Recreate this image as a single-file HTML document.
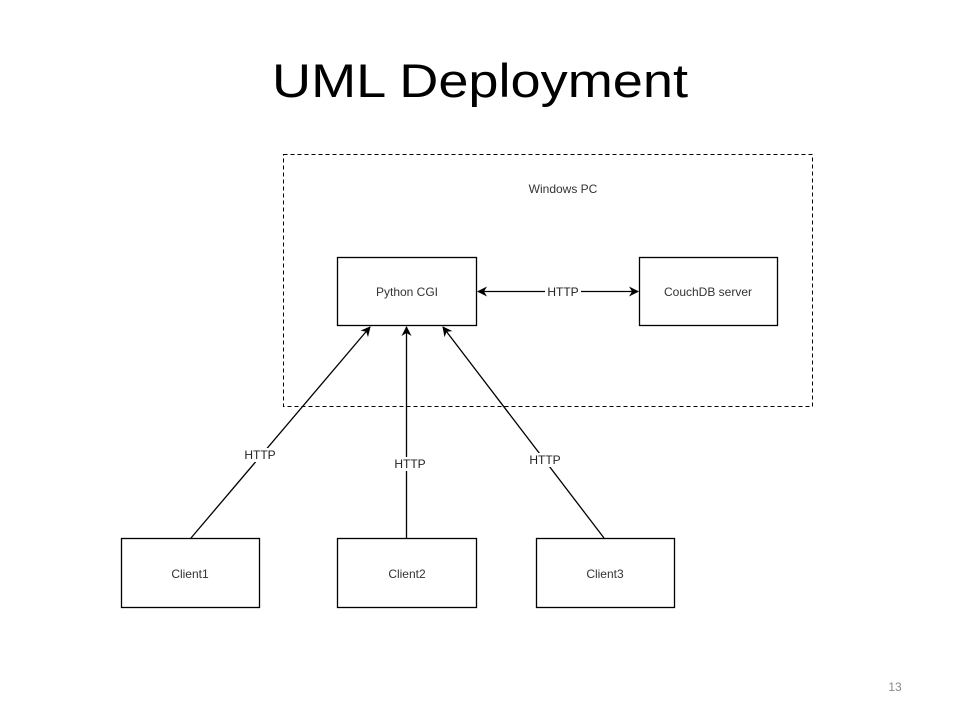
<!DOCTYPE html>
<html><head><meta charset="utf-8"><style>
html,body{margin:0;padding:0;background:#fff;}
svg{display:block;}
</style></head><body>
<svg width="960" height="720" viewBox="0 0 960 720" xmlns="http://www.w3.org/2000/svg">
<defs>
<marker id="ah" viewBox="0 0 10 10" refX="9" refY="5" markerWidth="10" markerHeight="10" markerUnits="userSpaceOnUse" orient="auto-start-reverse">
<path d="M0,0 L10,5 L0,10 L3,5 Z" fill="#000"/>
</marker>
</defs>
<text x="272" y="97" font-family="Liberation Sans, sans-serif" font-size="47" textLength="416" lengthAdjust="spacingAndGlyphs" fill="#000">UML Deployment</text>
<rect x="283.5" y="154.5" width="529" height="252" fill="none" stroke="#000" stroke-dasharray="4,3" stroke-width="1"/>
<text x="563" y="193" font-family="Liberation Sans, sans-serif" font-size="12" text-anchor="middle" fill="#333">Windows PC</text>
<g fill="#fff" stroke="#000" stroke-width="1.3">
<rect x="337.5" y="257.5" width="139" height="68"/>
<rect x="639.5" y="257.5" width="138" height="68"/>
<rect x="121.5" y="538.5" width="138" height="69"/>
<rect x="337.5" y="538.5" width="139" height="69"/>
<rect x="536.5" y="538.5" width="138" height="69"/>
</g>
<g font-family="Liberation Sans, sans-serif" font-size="12" fill="#333" text-anchor="middle">
<text x="407" y="296">Python CGI</text>
<text x="708" y="296">CouchDB server</text>
<text x="190" y="578">Client1</text>
<text x="407" y="578">Client2</text>
<text x="605" y="578">Client3</text>
</g>
<g stroke="#000" stroke-width="1.3" fill="none">
<line x1="478" y1="291.5" x2="638" y2="291.5" marker-start="url(#ah)" marker-end="url(#ah)"/>
<line x1="191" y1="538" x2="370" y2="327" marker-end="url(#ah)"/>
<line x1="406.5" y1="538" x2="406.5" y2="327" marker-end="url(#ah)"/>
<line x1="604" y1="538" x2="443" y2="327" marker-end="url(#ah)"/>
</g>
<g font-family="Liberation Sans, sans-serif" font-size="12" fill="#222" text-anchor="middle">
<rect x="545" y="285" width="36" height="14" fill="#fff"/>
<text x="563" y="296">HTTP</text>
<rect x="242" y="448" width="36" height="14" fill="#fff"/>
<text x="260" y="459">HTTP</text>
<rect x="392" y="457" width="36" height="14" fill="#fff"/>
<text x="410" y="468">HTTP</text>
<rect x="527" y="453" width="36" height="14" fill="#fff"/>
<text x="545" y="464">HTTP</text>
</g>
<text x="895" y="691" font-family="Liberation Sans, sans-serif" font-size="12" fill="#888" text-anchor="middle">13</text>
</svg>
</body></html>
